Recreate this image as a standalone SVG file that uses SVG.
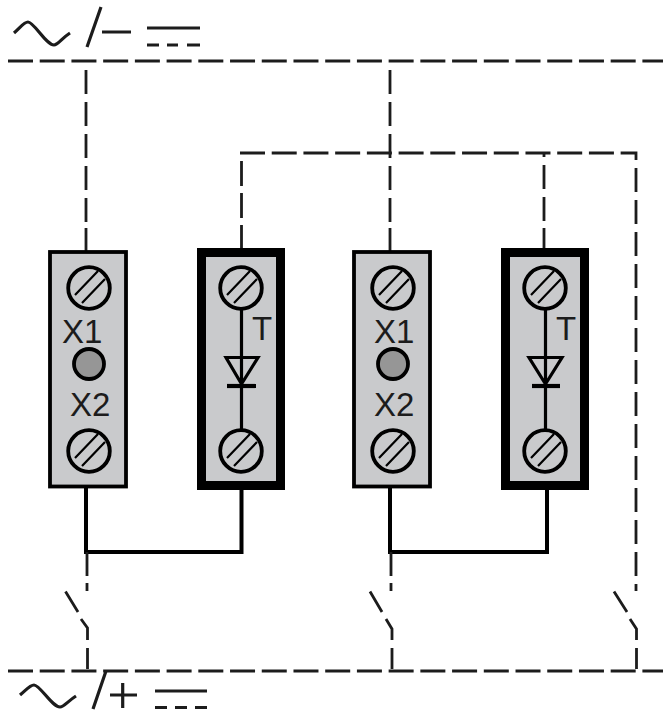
<svg xmlns="http://www.w3.org/2000/svg" width="663" height="717" viewBox="0 0 663 717">
<style>
.w{fill:none;stroke:#1c1c1c;stroke-width:2.800}
.d{stroke-dasharray:25 6.72}
.v{stroke-dasharray:24 8}
.u{stroke-dasharray:25 7}
.b{fill:none;stroke:#000;stroke-width:4}
.t{font-family:"Liberation Sans",Arial,sans-serif;font-size:33px;fill:#1c1c1c}
.bd1{fill:#c9cacc;stroke:#000;stroke-width:3.800}
.bd2{fill:#c9cacc;stroke:#000;stroke-width:9}
.scr{fill:#c9cacc;stroke:#000;stroke-width:3.800}
.h{fill:none;stroke:#000;stroke-width:2.200}
.sym{fill:none;stroke:#1c1c1c;stroke-width:3.200}
.dio{fill:none;stroke:#000;stroke-width:3.200}
.bar{fill:none;stroke:#000;stroke-width:4.200}
.led{fill:#969696;stroke:#000;stroke-width:3.800}
</style>
<defs>
<g id="screw"><circle r="20.800" class="scr"/><path class="h" d="M-14,7L9,-17M-7,15L16,-9"/></g>
</defs>
<g id="connectors">
<path class="w d" d="M8,61H663"/>
<path class="w d" d="M8,671H663"/>
<path class="w v" d="M86,70V222"/>
<path class="w" d="M86,228V252"/>
<path class="w v" d="M390,70V222"/>
<path class="w" d="M390,228V252"/>
<path class="w u" d="M241.500,250V153"/>
<path class="w d" d="M240,153H636V160"/>
<path class="w v" d="M636,168V591"/>
<path class="w" d="M544,153V157M544,165V189M544,197V221M544,228V250"/>
<path class="b" d="M86,487V552H241.500V487"/>
<path class="b" d="M390,487V552H547V487"/>
<path class="w" d="M87,552V576M87,583V591"/>
<path class="w" d="M391,552V576M391,583V591"/>
</g>
<g id="switch1"><path class="w" d="M65.500,591.500L78,612M81,619L87.500,628V640M87.500,648V669"/></g>
<g id="switch2"><path class="w" d="M370,591.500L382,612M386,619L392,629V640M392,648V669"/></g>
<g id="switch3"><path class="w" d="M614,591.500L627,612M630,619L636.500,629V640M636.500,648V669"/></g>
<g id="node-x1">
<rect x="50" y="252" width="76" height="234.500" class="bd1"/>
<use href="#screw" x="89" y="288"/>
<use href="#screw" x="89" y="451"/>
<circle cx="89" cy="364" r="15" class="led"/>
<text x="62" y="343" class="t">X1</text>
<text x="70" y="416" class="t">X2</text>
</g>
<g id="node-t1">
<rect x="201.500" y="252.500" width="79" height="233" class="bd2"/>
<path class="dio" d="M241.500,308V431M226,357.500H258L241.500,384Z"/>
<path class="bar" d="M227,386H256"/>
<use href="#screw" x="241" y="288"/>
<use href="#screw" x="241" y="451"/>
<text x="252" y="340" class="t">T</text>
</g>
<g id="node-x2">
<rect x="354" y="252" width="76" height="234.500" class="bd1"/>
<use href="#screw" x="393" y="288"/>
<use href="#screw" x="393" y="451"/>
<circle cx="393" cy="364" r="15" class="led"/>
<text x="374" y="343" class="t">X1</text>
<text x="374" y="416" class="t">X2</text>
</g>
<g id="node-t2">
<rect x="505.500" y="252.500" width="79" height="233" class="bd2"/>
<path class="dio" d="M545.500,308V431M529,357.500H562L545.500,384Z"/>
<path class="bar" d="M532,386H560"/>
<use href="#screw" x="545" y="288"/>
<use href="#screw" x="545" y="451"/>
<text x="556" y="340" class="t">T</text>
</g>
<g id="symbol-top" class="sym">
<path d="M14,33C20,28 24,22 28,22C34,22 46,45 54,45C58,45 62,38 70,33"/>
<path d="M87,47L101,7M102,32H131"/>
<path d="M147,28H200"/>
<path d="M147,45H159M167,45H178M187,45H200"/>
</g>
<g id="symbol-bottom" class="sym">
<path d="M20,695C26,690 30,685 34,685C40,685 52,707 60,707C64,707 68,701 76,696"/>
<path d="M93,709L106,671M110,695H137M122.700,683V708"/>
<path d="M155,691H207"/>
<path d="M155,707.500H167M175,707.500H187M195,707.500H207"/>
</g>
</svg>
